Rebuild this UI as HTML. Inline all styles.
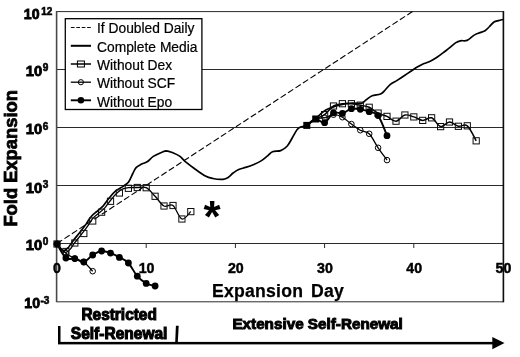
<!DOCTYPE html>
<html><head><meta charset="utf-8"><title>Fold Expansion</title>
<style>
html,body{margin:0;padding:0;background:#fff;}
svg{display:block;font-family:"Liberation Sans",Arial,sans-serif;}
</style></head><body>
<svg width="520" height="357" viewBox="0 0 520 357">
<defs><filter id="soft" x="0" y="0" width="520" height="357" filterUnits="userSpaceOnUse"><feGaussianBlur stdDeviation="0.4"/></filter></defs>
<rect width="520" height="357" fill="#fff"/>
<g filter="url(#soft)">

<line x1="57" y1="11.6" x2="503.5" y2="11.6" stroke="#2a2a2a" stroke-width="1"/>
<line x1="57" y1="69.5" x2="503.5" y2="69.5" stroke="#2a2a2a" stroke-width="1"/>
<line x1="57" y1="127.5" x2="503.5" y2="127.5" stroke="#2a2a2a" stroke-width="1"/>
<line x1="57" y1="185.5" x2="503.5" y2="185.5" stroke="#2a2a2a" stroke-width="1"/>
<line x1="57" y1="301.8" x2="503.5" y2="301.8" stroke="#2a2a2a" stroke-width="1"/>
<line x1="57" y1="243.5" x2="503.5" y2="243.5" stroke="#2a2a2a" stroke-width="1"/>
<line x1="56.6" y1="11" x2="56.6" y2="302.3" stroke="#4a4a4a" stroke-width="1.6"/>
<line x1="503.4" y1="11" x2="503.4" y2="302.3" stroke="#111" stroke-width="1.6"/>
<line x1="146.2" y1="243.5" x2="146.2" y2="248" stroke="#2a2a2a" stroke-width="1"/>
<line x1="235.4" y1="243.5" x2="235.4" y2="248" stroke="#2a2a2a" stroke-width="1"/>
<line x1="324.6" y1="243.5" x2="324.6" y2="248" stroke="#2a2a2a" stroke-width="1"/>
<line x1="413.8" y1="243.5" x2="413.8" y2="248" stroke="#2a2a2a" stroke-width="1"/>
<line x1="57" y1="243.5" x2="412.6" y2="11.5" stroke="#000" stroke-width="1.1" stroke-dasharray="6.2,2.7"/>
<path d="M57.0,244.0 C57.6,244.8 59.4,247.7 60.5,248.8 C61.6,249.9 62.6,250.8 63.9,250.7 C65.1,250.5 66.7,249.2 68.2,247.7 C69.6,246.1 70.7,243.9 72.6,241.5 C74.4,239.0 77.0,236.0 79.2,233.2 C81.5,230.3 84.0,226.9 86.0,224.2 C87.9,221.4 89.1,218.8 91.0,216.7 C92.8,214.5 94.9,213.2 96.9,211.5 C98.9,209.7 100.9,208.4 103.0,206.2 C105.0,203.9 107.0,200.5 109.2,198.0 C111.3,195.4 113.3,192.8 115.7,190.8 C118.0,188.9 121.3,187.6 123.5,186.1 C125.7,184.6 127.0,184.0 128.6,181.9 C130.2,179.8 131.6,175.9 132.8,173.5 C134.1,171.1 134.7,169.1 136.1,167.6 C137.5,166.1 139.4,165.3 141.2,164.3 C143.0,163.3 145.1,163.1 147.1,161.8 C149.1,160.5 151.0,157.9 153.3,156.4 C155.6,154.9 158.6,153.6 160.8,152.7 C163.0,151.8 164.3,150.8 166.4,150.8 C168.5,150.9 171.1,152.1 173.4,153.0 C175.7,153.9 178.0,155.0 180.0,156.4 C182.0,157.8 182.8,159.5 185.3,161.6 C187.9,163.7 192.0,166.8 195.3,169.2 C198.7,171.6 202.5,174.4 205.4,176.0 C208.3,177.6 210.1,177.9 213.0,178.5 C215.9,179.1 220.5,179.5 223.0,179.3 C225.5,179.1 226.4,178.6 228.1,177.5 C229.8,176.4 231.4,174.3 233.1,173.0 C234.8,171.7 236.1,170.6 238.2,169.7 C240.3,168.8 243.2,168.2 245.7,167.4 C248.2,166.6 250.7,165.8 253.3,164.7 C255.9,163.6 258.7,162.4 261.1,160.9 C263.5,159.4 265.7,157.3 267.6,155.8 C269.5,154.3 270.3,152.6 272.5,151.7 C274.7,150.8 278.2,151.5 280.7,150.6 C283.2,149.7 285.4,148.1 287.3,146.0 C289.2,143.9 290.6,140.7 292.2,138.0 C293.8,135.3 295.6,131.6 297.0,129.8 C298.4,128.0 299.0,127.7 300.5,127.0 C302.0,126.3 303.7,126.7 306.1,125.4 C308.5,124.1 311.8,121.7 315.1,119.1 C318.4,116.5 321.5,112.4 325.8,110.0 C330.1,107.6 336.6,105.8 341.2,104.6 C345.8,103.4 350.1,103.3 353.5,103.1 C356.9,102.9 359.3,103.8 361.4,103.3 C363.5,102.8 364.4,101.0 366.2,99.8 C368.0,98.5 369.7,96.8 372.1,95.8 C374.5,94.8 378.3,95.0 380.5,94.0 C382.7,93.0 383.6,91.6 385.2,90.0 C386.8,88.4 388.4,85.9 390.4,84.3 C392.4,82.7 394.9,81.8 397.1,80.4 C399.3,79.0 401.6,77.5 403.8,76.0 C406.0,74.5 408.2,73.0 410.5,71.5 C412.8,70.0 415.1,68.3 417.3,67.0 C419.6,65.7 421.8,64.6 424.0,63.6 C426.2,62.6 428.5,62.1 430.7,61.0 C432.9,59.9 435.1,58.5 437.4,57.0 C439.6,55.5 442.2,53.5 444.2,52.0 C446.1,50.5 447.2,49.8 449.1,48.2 C451.1,46.6 454.0,43.8 455.9,42.6 C457.8,41.4 458.5,41.2 460.4,40.8 C462.3,40.4 464.9,41.3 467.1,40.4 C469.3,39.5 471.9,36.6 473.8,35.4 C475.7,34.2 476.4,34.0 478.3,33.2 C480.2,32.4 483.1,31.8 485.0,30.7 C486.9,29.6 488.0,27.9 489.5,26.5 C491.0,25.1 492.5,23.0 494.0,22.0 C495.5,21.0 497.0,21.0 498.5,20.6 C500.0,20.2 502.2,19.7 503.0,19.5" fill="none" stroke="#000" stroke-width="1.7" stroke-linejoin="round"/>
<path d="M57.0,244.0 C58.5,245.5 62.9,250.8 65.9,253.2 C68.9,255.6 71.9,257.1 74.8,258.6 C77.8,260.1 80.8,259.9 83.8,262.0 C86.7,264.1 91.2,269.7 92.7,271.2" fill="none" stroke="#000" stroke-width="1.3"/>
<path d="M306.8,125.4 C308.2,124.3 312.7,120.3 315.7,119.0 C318.7,117.7 321.6,118.4 324.6,117.7 C327.6,117.0 330.5,114.8 333.5,114.7 C336.5,114.6 339.5,115.6 342.4,117.2 C345.4,118.8 348.4,121.9 351.4,124.1 C354.3,126.3 357.3,128.6 360.3,130.2 C363.3,131.8 366.2,130.9 369.2,133.8 C372.2,136.7 375.1,143.4 378.1,147.8 C381.1,152.2 385.6,158.1 387.0,160.1" fill="none" stroke="#000" stroke-width="1.3"/>
<path d="M57.0,244.0 C57.7,244.9 59.8,248.2 61.2,249.6 C62.6,251.0 64.2,252.5 65.7,252.4 C67.1,252.4 68.5,251.0 70.0,249.4 C71.4,247.9 72.5,245.7 74.4,243.2 C76.2,240.8 78.8,237.8 81.0,234.9 C83.3,232.1 85.8,228.7 87.8,225.9 C89.7,223.2 90.9,220.6 92.8,218.4 C94.6,216.3 96.7,215.0 98.7,213.2 C100.7,211.5 102.7,210.2 104.8,207.9 C106.8,205.7 108.8,202.3 111.0,199.8 C113.1,197.2 115.4,194.5 117.5,192.6 C119.5,190.8 121.6,189.5 123.5,188.7 C125.4,187.9 126.3,187.8 128.6,187.6 C130.9,187.4 134.3,187.5 137.3,187.5 C140.2,187.5 143.2,186.2 146.2,187.7 C149.2,189.2 152.1,193.2 155.1,196.3 C158.1,199.4 161.1,204.5 164.0,206.0 C167.0,207.5 170.0,203.3 173.0,205.5 C175.9,207.7 178.9,218.0 181.9,219.0 C184.9,220.0 189.3,212.8 190.8,211.6" fill="none" stroke="#000" stroke-width="1.3"/>
<path d="M306.8,125.4 C308.2,124.3 312.7,120.8 315.7,119.0 C318.7,117.2 321.6,116.8 324.6,114.6 C327.6,112.4 330.5,107.8 333.5,106.0 C336.5,104.2 339.5,104.1 342.4,103.7 C345.4,103.3 348.4,103.5 351.4,103.7 C354.3,104.0 357.3,104.6 360.3,105.2 C363.3,105.8 366.2,106.0 369.2,107.3 C372.2,108.6 375.1,111.6 378.1,113.1 C381.1,114.6 384.1,115.1 387.0,116.4 C390.0,117.8 393.0,121.4 396.0,121.2 C398.9,121.0 401.9,115.7 404.9,115.0 C407.9,114.3 410.8,116.0 413.8,116.9 C416.8,117.8 419.7,120.2 422.7,120.4 C425.7,120.6 428.7,116.8 431.6,117.8 C434.6,118.8 437.6,125.9 440.6,126.6 C443.5,127.3 446.5,122.0 449.5,122.0 C452.5,122.0 455.4,125.7 458.4,126.3 C461.4,126.9 464.3,123.4 467.3,125.8 C470.3,128.2 474.8,138.3 476.2,140.8" fill="none" stroke="#000" stroke-width="1.5"/>
<path d="M57.0,244.0 C58.5,246.3 62.9,255.6 65.9,258.0 C68.9,260.4 71.9,257.9 74.8,258.6 C77.8,259.3 80.8,262.6 83.8,262.0 C86.7,261.4 89.7,256.8 92.7,255.0 C95.7,253.2 98.6,251.3 101.6,251.0 C104.6,250.7 107.5,252.0 110.5,253.1 C113.5,254.2 116.5,255.7 119.4,257.4 C122.4,259.0 125.4,259.9 128.4,263.0 C131.3,266.1 134.3,272.8 137.3,276.2 C140.3,279.6 143.2,281.8 146.2,283.4 C149.2,285.0 153.6,285.6 155.1,286.0" fill="none" stroke="#000" stroke-width="1.9"/>
<path d="M306.8,125.4 C308.2,124.3 312.7,119.5 315.7,119.0 C318.7,118.5 321.6,123.7 324.6,122.7 C327.6,121.7 330.5,114.3 333.5,112.8 C336.5,111.2 339.5,114.1 342.4,113.4 C345.4,112.7 348.4,109.4 351.4,108.7 C354.3,108.0 357.3,108.8 360.3,109.3 C363.3,109.8 366.2,110.7 369.2,111.7 C372.2,112.8 375.1,111.6 378.1,115.6 C381.1,119.6 385.6,132.3 387.0,135.7" fill="none" stroke="#000" stroke-width="1.9"/>
<circle cx="57.0" cy="244.0" r="2.8" fill="none" stroke="#000" stroke-width="1"/>
<circle cx="65.9" cy="253.2" r="2.8" fill="none" stroke="#000" stroke-width="1"/>
<circle cx="74.8" cy="258.6" r="2.8" fill="none" stroke="#000" stroke-width="1"/>
<circle cx="83.8" cy="262.0" r="2.8" fill="none" stroke="#000" stroke-width="1"/>
<circle cx="92.7" cy="271.2" r="2.8" fill="none" stroke="#000" stroke-width="1"/>
<circle cx="324.6" cy="117.7" r="2.8" fill="none" stroke="#000" stroke-width="1"/>
<circle cx="333.5" cy="114.7" r="2.8" fill="none" stroke="#000" stroke-width="1"/>
<circle cx="342.4" cy="117.2" r="2.8" fill="none" stroke="#000" stroke-width="1"/>
<circle cx="351.4" cy="124.1" r="2.8" fill="none" stroke="#000" stroke-width="1"/>
<circle cx="360.3" cy="130.2" r="2.8" fill="none" stroke="#000" stroke-width="1"/>
<circle cx="369.2" cy="133.8" r="2.8" fill="none" stroke="#000" stroke-width="1"/>
<circle cx="378.1" cy="147.8" r="2.8" fill="none" stroke="#000" stroke-width="1"/>
<circle cx="387.0" cy="160.1" r="2.8" fill="none" stroke="#000" stroke-width="1"/>
<rect x="53.9" y="240.9" width="6.2" height="6.2" fill="none" stroke="#111" stroke-width="1"/>
<rect x="62.8" y="248.4" width="6.2" height="6.2" fill="none" stroke="#111" stroke-width="1"/>
<rect x="71.7" y="239.9" width="6.2" height="6.2" fill="none" stroke="#111" stroke-width="1"/>
<rect x="80.7" y="230.4" width="6.2" height="6.2" fill="none" stroke="#111" stroke-width="1"/>
<rect x="89.6" y="217.9" width="6.2" height="6.2" fill="none" stroke="#111" stroke-width="1"/>
<rect x="98.5" y="209.1" width="6.2" height="6.2" fill="none" stroke="#111" stroke-width="1"/>
<rect x="107.4" y="198.2" width="6.2" height="6.2" fill="none" stroke="#111" stroke-width="1"/>
<rect x="116.3" y="189.9" width="6.2" height="6.2" fill="none" stroke="#111" stroke-width="1"/>
<rect x="125.3" y="185.2" width="6.2" height="6.2" fill="none" stroke="#111" stroke-width="1"/>
<rect x="134.2" y="184.4" width="6.2" height="6.2" fill="none" stroke="#111" stroke-width="1"/>
<rect x="143.1" y="184.6" width="6.2" height="6.2" fill="none" stroke="#111" stroke-width="1"/>
<rect x="152.0" y="193.2" width="6.2" height="6.2" fill="none" stroke="#111" stroke-width="1"/>
<rect x="160.9" y="202.9" width="6.2" height="6.2" fill="none" stroke="#111" stroke-width="1"/>
<rect x="169.9" y="202.4" width="6.2" height="6.2" fill="none" stroke="#111" stroke-width="1"/>
<rect x="178.8" y="215.9" width="6.2" height="6.2" fill="none" stroke="#111" stroke-width="1"/>
<rect x="187.7" y="208.5" width="6.2" height="6.2" fill="none" stroke="#111" stroke-width="1"/>
<rect x="303.3" y="121.9" width="7" height="7" fill="#000"/>
<rect x="312.2" y="115.5" width="7" height="7" fill="#000"/>
<rect x="321.5" y="111.5" width="6.2" height="6.2" fill="none" stroke="#111" stroke-width="1"/>
<rect x="330.4" y="102.9" width="6.2" height="6.2" fill="none" stroke="#111" stroke-width="1"/>
<rect x="339.3" y="100.6" width="6.2" height="6.2" fill="none" stroke="#111" stroke-width="1"/>
<rect x="348.3" y="100.6" width="6.2" height="6.2" fill="none" stroke="#111" stroke-width="1"/>
<rect x="357.2" y="102.1" width="6.2" height="6.2" fill="none" stroke="#111" stroke-width="1"/>
<rect x="366.1" y="104.2" width="6.2" height="6.2" fill="none" stroke="#111" stroke-width="1"/>
<rect x="375.0" y="110.0" width="6.2" height="6.2" fill="none" stroke="#111" stroke-width="1"/>
<rect x="383.9" y="113.3" width="6.2" height="6.2" fill="none" stroke="#111" stroke-width="1"/>
<rect x="392.9" y="118.1" width="6.2" height="6.2" fill="none" stroke="#111" stroke-width="1"/>
<rect x="401.8" y="111.9" width="6.2" height="6.2" fill="none" stroke="#111" stroke-width="1"/>
<rect x="410.7" y="113.8" width="6.2" height="6.2" fill="none" stroke="#111" stroke-width="1"/>
<rect x="419.6" y="117.3" width="6.2" height="6.2" fill="none" stroke="#111" stroke-width="1"/>
<rect x="428.5" y="114.7" width="6.2" height="6.2" fill="none" stroke="#111" stroke-width="1"/>
<rect x="437.5" y="123.5" width="6.2" height="6.2" fill="none" stroke="#111" stroke-width="1"/>
<rect x="446.4" y="118.9" width="6.2" height="6.2" fill="none" stroke="#111" stroke-width="1"/>
<rect x="455.3" y="123.2" width="6.2" height="6.2" fill="none" stroke="#111" stroke-width="1"/>
<rect x="464.2" y="122.7" width="6.2" height="6.2" fill="none" stroke="#111" stroke-width="1"/>
<rect x="473.1" y="137.7" width="6.2" height="6.2" fill="none" stroke="#111" stroke-width="1"/>
<circle cx="57.0" cy="244.0" r="3.4" fill="#000"/>
<circle cx="65.9" cy="258.0" r="3.4" fill="#000"/>
<circle cx="74.8" cy="258.6" r="3.4" fill="#000"/>
<circle cx="83.8" cy="262.0" r="3.4" fill="#000"/>
<circle cx="92.7" cy="255.0" r="3.4" fill="#000"/>
<circle cx="101.6" cy="251.0" r="3.4" fill="#000"/>
<circle cx="110.5" cy="253.1" r="3.4" fill="#000"/>
<circle cx="119.4" cy="257.4" r="3.4" fill="#000"/>
<circle cx="128.4" cy="263.0" r="3.4" fill="#000"/>
<circle cx="137.3" cy="276.2" r="3.4" fill="#000"/>
<circle cx="146.2" cy="283.4" r="3.4" fill="#000"/>
<circle cx="155.1" cy="286.0" r="3.4" fill="#000"/>
<circle cx="324.6" cy="122.7" r="3.4" fill="#000"/>
<circle cx="333.5" cy="112.8" r="3.4" fill="#000"/>
<circle cx="342.4" cy="113.4" r="3.4" fill="#000"/>
<circle cx="351.4" cy="108.7" r="3.4" fill="#000"/>
<circle cx="360.3" cy="109.3" r="3.4" fill="#000"/>
<circle cx="369.2" cy="111.7" r="3.4" fill="#000"/>
<circle cx="378.1" cy="115.6" r="3.4" fill="#000"/>
<circle cx="387.0" cy="135.7" r="3.4" fill="#000"/>
<rect x="65.3" y="18.7" width="136.6" height="90.8" fill="#fff" stroke="#000" stroke-width="1.3"/>
<line x1="70.9" y1="27.5" x2="90.8" y2="27.5" stroke="#000" stroke-width="0.95" stroke-dasharray="3.7,1.7"/>
<line x1="70.8" y1="45.8" x2="91" y2="45.8" stroke="#000" stroke-width="2"/>
<line x1="70.8" y1="64" x2="91" y2="64" stroke="#000" stroke-width="1.5"/>
<rect x="77.4" y="61" width="7" height="6" fill="none" stroke="#000" stroke-width="1"/>
<line x1="70.8" y1="82.2" x2="91" y2="82.2" stroke="#000" stroke-width="1.3"/>
<circle cx="80.9" cy="82.2" r="2.6" fill="none" stroke="#000" stroke-width="1"/>
<line x1="70.8" y1="100.3" x2="91" y2="100.3" stroke="#000" stroke-width="1.9"/>
<circle cx="80.9" cy="100.3" r="3.3" fill="#000"/>
<text x="97" y="33.2" font-size="13.8" fill="#000" stroke="#000" stroke-width="0.2">If Doubled Daily</text>
<text x="97" y="51.6" font-size="13.8" fill="#000" stroke="#000" stroke-width="0.2">Complete Media</text>
<text x="97" y="69.9" font-size="13.8" fill="#000" stroke="#000" stroke-width="0.2">Without Dex</text>
<text x="97" y="88.2" font-size="13.8" fill="#000" stroke="#000" stroke-width="0.2">Without SCF</text>
<text x="97" y="106.6" font-size="13.8" fill="#000" stroke="#000" stroke-width="0.2">Without Epo</text>
<text x="23.8" y="19.4" font-size="15.2" font-weight="bold" fill="#000" stroke="#000" stroke-width="0.85" textLength="15.7" lengthAdjust="spacingAndGlyphs">10</text>
<text x="41.2" y="14.7" font-size="10" font-weight="bold" fill="#000" stroke="#000" stroke-width="0.6">12</text>
<text x="25.7" y="75.5" font-size="15.2" font-weight="bold" fill="#000" stroke="#000" stroke-width="0.85" textLength="16.4" lengthAdjust="spacingAndGlyphs">10</text>
<text x="42.7" y="70.7" font-size="10" font-weight="bold" fill="#000" stroke="#000" stroke-width="0.6">9</text>
<text x="25.7" y="134.2" font-size="15.2" font-weight="bold" fill="#000" stroke="#000" stroke-width="0.85" textLength="16.4" lengthAdjust="spacingAndGlyphs">10</text>
<text x="42.7" y="129.6" font-size="10" font-weight="bold" fill="#000" stroke="#000" stroke-width="0.6">6</text>
<text x="25.7" y="192.7" font-size="15.2" font-weight="bold" fill="#000" stroke="#000" stroke-width="0.85" textLength="16.4" lengthAdjust="spacingAndGlyphs">10</text>
<text x="42.7" y="188.1" font-size="10" font-weight="bold" fill="#000" stroke="#000" stroke-width="0.6">3</text>
<text x="25.7" y="249.9" font-size="15.2" font-weight="bold" fill="#000" stroke="#000" stroke-width="0.85" textLength="16.4" lengthAdjust="spacingAndGlyphs">10</text>
<text x="42.7" y="245.1" font-size="10" font-weight="bold" fill="#000" stroke="#000" stroke-width="0.6">0</text>
<text x="24.3" y="308.2" font-size="15.2" font-weight="bold" fill="#000" stroke="#000" stroke-width="0.85" textLength="15.7" lengthAdjust="spacingAndGlyphs">10</text>
<text x="40.4" y="303.6" font-size="10" font-weight="bold" fill="#000" stroke="#000" stroke-width="0.6">-3</text>
<text x="56.9" y="272.6" font-size="14.2" font-weight="bold" text-anchor="middle" fill="#000" stroke="#000" stroke-width="0.45">0</text>
<text x="146.6" y="272.6" font-size="14.2" font-weight="bold" text-anchor="middle" fill="#000" stroke="#000" stroke-width="0.45">10</text>
<text x="235.8" y="272.6" font-size="14.2" font-weight="bold" text-anchor="middle" fill="#000" stroke="#000" stroke-width="0.45">20</text>
<text x="325.0" y="272.6" font-size="14.2" font-weight="bold" text-anchor="middle" fill="#000" stroke="#000" stroke-width="0.45">30</text>
<text x="414.2" y="272.6" font-size="14.2" font-weight="bold" text-anchor="middle" fill="#000" stroke="#000" stroke-width="0.45">40</text>
<text x="503.4" y="272.6" font-size="14.2" font-weight="bold" text-anchor="middle" fill="#000" stroke="#000" stroke-width="0.45">50</text>
<text x="212" y="297.4" font-size="17.6" font-weight="bold" fill="#000" letter-spacing="0.25" word-spacing="2.7" stroke="#000" stroke-width="0.25">Expansion Day</text>
<text transform="translate(17.1,226.6) rotate(-90)" font-size="18.4" font-weight="bold" fill="#000" stroke="#000" stroke-width="0.8" textLength="136.5" lengthAdjust="spacingAndGlyphs">Fold Expansion</text>
<text x="212" y="231.8" font-size="44" font-weight="bold" text-anchor="middle" fill="#000">*</text>
<text x="81.5" y="320" font-size="15.6" font-weight="bold" fill="#000" stroke="#000" stroke-width="1.05" textLength="75.3" lengthAdjust="spacingAndGlyphs">Restricted</text>
<text x="70.8" y="338.6" font-size="15.6" font-weight="bold" fill="#000" stroke="#000" stroke-width="1.05" textLength="96.6" lengthAdjust="spacingAndGlyphs">Self-Renewal</text>
<text x="232.4" y="329.2" font-size="14.8" font-weight="bold" fill="#000" stroke="#000" stroke-width="0.95" textLength="170.4" lengthAdjust="spacingAndGlyphs">Extensive Self-Renewal</text>
<rect x="58" y="326" width="2.5" height="18" fill="#000"/>
<polygon points="175.9,325.8 178.7,325.8 177.8,342 175.2,342" fill="#000"/>
<rect x="58" y="341.9" width="436" height="2.5" fill="#000"/>
<polygon points="492.3,336.9 504.5,343.1 492.3,349.2" fill="#000"/>
</g>
</svg></body></html>
